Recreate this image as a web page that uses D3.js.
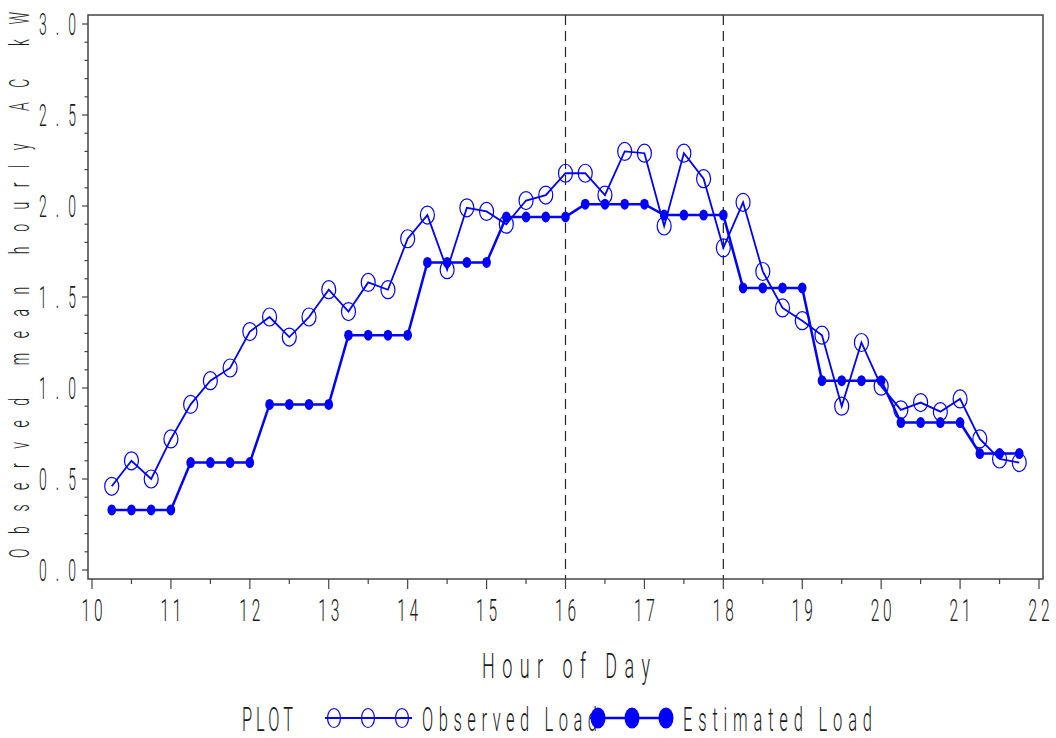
<!DOCTYPE html>
<html>
<head>
<meta charset="utf-8">
<script src="https://cdn.jsdelivr.net/npm/d3@7"></script>
<style>
  html, body { margin: 0; padding: 0; background: #fff; }
  svg { display: block; }
  text { font-family: Roboto, "DejaVu Sans", sans-serif; font-weight: 300; fill: #1a1a1a; }
</style>
</head>
<body>
<svg id="chart" width="1056" height="738"></svg>
<script>
// ---- data ----
const hours = [10.25,10.5,10.75,11,11.25,11.5,11.75,12,12.25,12.5,12.75,13,13.25,13.5,13.75,14,
  14.25,14.5,14.75,15,15.25,15.5,15.75,16,16.25,16.5,16.75,17,17.25,17.5,17.75,18,
  18.25,18.5,18.75,19,19.25,19.5,19.75,20,20.25,20.5,20.75,21,21.25,21.5,21.75];
const observedLoad = [0.46,0.60,0.50,0.72,0.91,1.04,1.11,1.31,1.39,1.28,1.39,1.54,1.42,1.58,1.54,1.82,
  1.95,1.65,1.99,1.97,1.90,2.03,2.06,2.18,2.18,2.06,2.30,2.29,1.89,2.29,2.15,1.77,
  2.02,1.64,1.44,1.37,1.29,0.90,1.25,1.01,0.88,0.92,0.87,0.94,0.72,0.61,0.59];
const estimatedLoad = [0.33,0.33,0.33,0.33,0.59,0.59,0.59,0.59,0.91,0.91,0.91,0.91,1.29,1.29,1.29,1.29,
  1.69,1.69,1.69,1.69,1.94,1.94,1.94,1.94,2.01,2.01,2.01,2.01,1.95,1.95,1.95,1.95,
  1.55,1.55,1.55,1.55,1.04,1.04,1.04,1.04,0.81,0.81,0.81,0.81,0.64,0.64,0.64];
const xTicks = [10,11,12,13,14,15,16,17,18,19,20,21,22];
const yTicks = [0,0.5,1,1.5,2,2.5,3];
const yTickLabels = ["0.0","0.5","1.0","1.5","2.0","2.5","3.0"];
const refLines = [16,18];
const seriesNames = ["Observed Load","Estimated Load"];
const legendTitle = "PLOT";
const xTitle = "Hour of Day";
const yTitle = "Observed mean hourly AC  kW";

// ---- layout ----
const svg = d3.select("#chart");
const frame = {x0: 88, y0: 15, x1: 1043, y1: 579};
const x = d3.scaleLinear().domain([10,22]).range([92,1039]);
const y = d3.scaleLinear().domain([0,3]).range([570,24]);
const blue = "#0000ff";

function ctext(g, o) {
  const sx = o.sx || 0.5;
  const t = g.append("text")
    .attr("transform", `translate(${o.x},${o.y}) rotate(${o.rotate||0}) scale(${sx},1)`)
    .attr("font-size", o.size)
    .attr("text-anchor", o.anchor || "start")
    .text(o.text);
  if (o.len) t.attr("textLength", o.len / sx).attr("lengthAdjust", "spacing");
  return t;
}

// reference dashed lines
svg.append("g").selectAll("line").data(refLines).join("line")
  .attr("x1", d => x(d)).attr("x2", d => x(d))
  .attr("y1", frame.y0).attr("y2", frame.y1)
  .attr("stroke", "#222").attr("stroke-width", 1.2).attr("stroke-dasharray", "10,6");

// frame
svg.append("rect").attr("x", frame.x0).attr("y", frame.y0)
  .attr("width", frame.x1 - frame.x0).attr("height", frame.y1 - frame.y0)
  .attr("fill", "none").attr("stroke", "#444").attr("stroke-width", 1.5);

// y axis ticks
const yMinor = d3.range(0, 3.0001, 0.1);
svg.append("g").selectAll("line").data(yMinor).join("line")
  .attr("x1", d => (Math.abs(d*2 - Math.round(d*2)) < 1e-6) ? 82 : 84.5).attr("x2", frame.x0)
  .attr("y1", d => y(d)).attr("y2", d => y(d))
  .attr("stroke", "#444").attr("stroke-width", 1.2);
const yl = svg.append("g");
yTicks.forEach((t, i) => ctext(yl, {x: 76, y: y(t) + 11, text: yTickLabels[i], size: 31, anchor: "end", len: 37, sx: 0.45}));

// x axis ticks
const xMinor = d3.range(10, 22.001, 0.5);
svg.append("g").selectAll("line").data(xMinor).join("line")
  .attr("x1", d => x(d)).attr("x2", d => x(d))
  .attr("y1", frame.y1).attr("y2", d => Number.isInteger(d) ? 589 : 584)
  .attr("stroke", "#444").attr("stroke-width", 1.2);
const xl = svg.append("g");
xTicks.forEach(t => ctext(xl, {x: x(t), y: 621, text: String(t), size: 31, anchor: "middle", len: 21, sx: 0.5}));

// titles
ctext(svg, {x: 566, y: 678, text: xTitle, size: 36, anchor: "middle", len: 168, sx: 0.5});
ctext(svg, {x: 29, y: 285, text: yTitle, size: 28, anchor: "middle", len: 546, sx: 0.5, rotate: -90});

// series
const pts = hours.map((h, i) => ({h, o: observedLoad[i], e: estimatedLoad[i]}));
const lineO = d3.line().x(d => x(d.h)).y(d => y(d.o));
const lineE = d3.line().x(d => x(d.h)).y(d => y(d.e));
svg.append("path").datum(pts).attr("d", lineE).attr("fill", "none").attr("stroke", blue).attr("stroke-width", 2.5);
svg.append("g").selectAll("ellipse").data(pts).join("ellipse")
  .attr("cx", d => x(d.h)).attr("cy", d => y(d.e)).attr("rx", 4.3).attr("ry", 5.5).attr("fill", blue);
svg.append("path").datum(pts).attr("d", lineO).attr("fill", "none").attr("stroke", blue).attr("stroke-width", 1.8);
svg.append("g").selectAll("ellipse").data(pts).join("ellipse")
  .attr("cx", d => x(d.h)).attr("cy", d => y(d.o)).attr("rx", 7).attr("ry", 9)
  .attr("fill", "none").attr("stroke", blue).attr("stroke-width", 1.2);

// legend
const lg = svg.append("g");
const ly = 718;
ctext(lg, {x: 242, y: 731, text: legendTitle, size: 33, len: 51, sx: 0.5});
lg.append("line").attr("x1", 325).attr("x2", 412).attr("y1", ly).attr("y2", ly).attr("stroke", blue).attr("stroke-width", 2);
[334, 368, 402].forEach(cx => lg.append("ellipse").attr("cx", cx).attr("cy", ly).attr("rx", 6.5).attr("ry", 9.5)
  .attr("fill", "none").attr("stroke", blue).attr("stroke-width", 1.2));
ctext(lg, {x: 422, y: 731, text: seriesNames[0], size: 33, len: 175, sx: 0.5});
lg.append("line").attr("x1", 590).attr("x2", 672).attr("y1", ly).attr("y2", ly).attr("stroke", blue).attr("stroke-width", 2.5);
[598, 632, 666].forEach(cx => lg.append("ellipse").attr("cx", cx).attr("cy", ly).attr("rx", 7.5).attr("ry", 10.5).attr("fill", blue));
ctext(lg, {x: 683, y: 731, text: seriesNames[1], size: 33, len: 189, sx: 0.5});
</script>
</body>
</html>
